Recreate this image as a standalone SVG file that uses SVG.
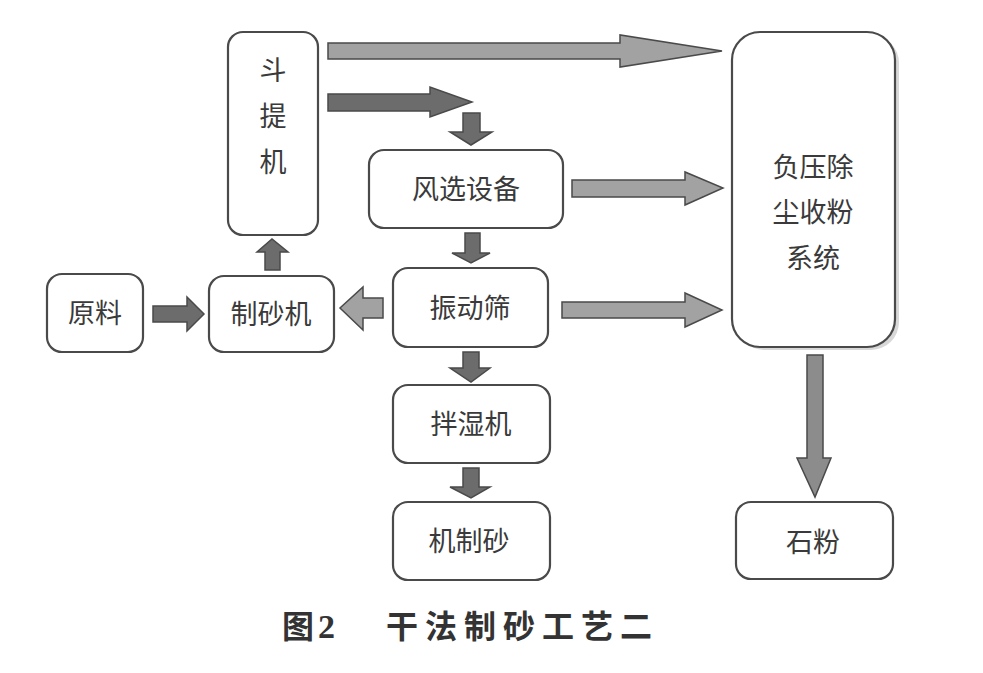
<svg xmlns="http://www.w3.org/2000/svg" width="983" height="673" viewBox="0 0 983 673">
<style>
.box{fill:#fff;stroke:#4a4a4a;stroke-width:2.2}
.t{font-family:"Noto Sans CJK SC","Liberation Sans",sans-serif;font-size:27px;fill:#3a3a3a;text-anchor:middle}
.dk{fill:#6c6c6c;stroke:#4a4a4a;stroke-width:1.5}
.lt{fill:#a2a2a2;stroke:#4a4a4a;stroke-width:1.5}
.md{fill:#8c8c8c;stroke:#4a4a4a;stroke-width:1.5}
.cap{font-family:"Noto Sans CJK SC","Liberation Sans",sans-serif;font-size:32px;font-weight:bold;fill:#333}
</style>
<rect width="983" height="673" fill="#fff"/>
<g id="connectors">
<polygon class="lt" points="328,43 620,43 620,35 722,51 620,67 620,59 328,59"/>
<polygon class="dk" points="328,94 430,94 430,87 472,102 430,117 430,111 328,111"/>
<polygon class="lt" points="572,180 685,180 685,172 723,188 685,205 685,197 572,197"/>
<polygon class="lt" points="562,302 685,302 685,293 722,310 685,327 685,318 562,318"/>
<polygon class="dk" points="153,306 187,306 187,297 204,314 187,331 187,322 153,322"/>
<polygon class="lt" points="383,298 363,298 363,287 340,308 363,330 363,318 383,318"/>
<polygon class="dk" points="265,270 265,252 257,252 272,239 288,252 280,252 280,270"/>
<polygon class="dk" points="463,113 480,113 480,132 492,132 471,145 450,132 463,132"/>
<polygon class="dk" points="465,233 480,233 480,253 490,253 471,263 452,253 465,253"/>
<polygon class="dk" points="463,352 479,352 479,368 490,368 471,382 450,368 463,368"/>
<polygon class="dk" points="463,468 479,468 479,487 490,487 471,498 450,487 463,487"/>
<polygon class="md" points="807,355 823,355 823,458 831,458 815,497 797,458 807,458"/>
</g>
<g id="doutiji">
<rect class="box" x="228" y="32" width="90" height="203" rx="15"/>
<text class="t" x="273" y="80">斗</text>
<text class="t" x="273" y="126">提</text>
<text class="t" x="273" y="172">机</text>
</g>
<g id="fengxuan">
<rect class="box" x="369" y="150" width="194" height="78" rx="15"/>
<text class="t" x="466" y="199">风选设备</text>
</g>
<g id="zhendongshai">
<rect class="box" x="393" y="268" width="155" height="79" rx="15"/>
<text class="t" x="470" y="318">振动筛</text>
</g>
<g id="yuanliao">
<rect class="box" x="47" y="274" width="96" height="78" rx="15"/>
<text class="t" x="95" y="323">原料</text>
</g>
<g id="zhishaji">
<rect class="box" x="209" y="276" width="125" height="76" rx="15"/>
<text class="t" x="271" y="324">制砂机</text>
</g>
<g id="banshiji">
<rect class="box" x="393" y="385" width="157" height="78" rx="15"/>
<text class="t" x="471" y="434">拌湿机</text>
</g>
<g id="jizhisha">
<rect class="box" x="393" y="502" width="157" height="78" rx="15"/>
<text class="t" x="469" y="551">机制砂</text>
</g>
<g id="fuya">
<rect x="736" y="35" width="163" height="315" rx="28" fill="#d8d8d8"/>
<rect class="box" x="732" y="32" width="163" height="315" rx="28"/>
<text class="t" x="813" y="177">负压除</text>
<text class="t" x="813" y="222">尘收粉</text>
<text class="t" x="813" y="268">系统</text>
</g>
<g id="shifen">
<rect class="box" x="736" y="502" width="157" height="77" rx="15"/>
<text class="t" x="813" y="552">石粉</text>
</g>
<g id="caption">
<text class="cap" x="282" y="638">图</text>
<text class="cap" x="318" y="638" style="font-family:'Liberation Serif',serif;font-size:34px">2</text>
<text class="cap" x="386" y="638" letter-spacing="7">干法制砂工艺二</text>
</g>
</svg>
